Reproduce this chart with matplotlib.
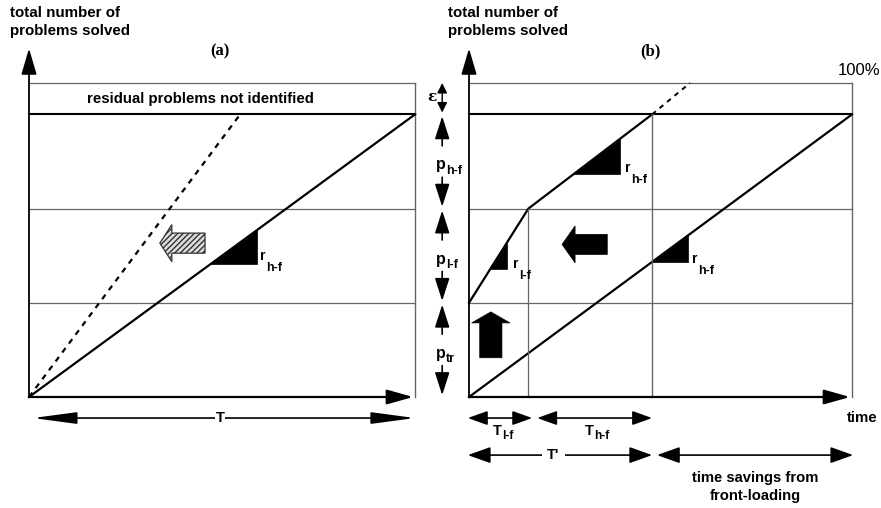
import numpy as np
import matplotlib.pyplot as plt
from matplotlib.patches import Polygon

plt.rcParams['font.family'] = ['Liberation Sans', 'DejaVu Sans']

# problem levels (% of all problems): p_tr, p_l-f, p_h-f bands, epsilon band on top
levels = [0, 30, 60, 90, 100]
T = 10.0

# (a) conventional process
base_t = [0, 10]
base_p = [0, 90]
fast_t = [0, 5.47]
fast_p = [0, 90]

# (b) front-loading
T_lf = 1.55
T_prime = 4.78
front_t = [0, T_lf, T_prime]
front_p = [30, 60, 90]
front_ext_t = [T_prime, 5.77]
front_ext_p = [90, 100]

# slope triangles (t0, t1)
tri_a = [(4.7, 5.9)]
tri_b_front = [(0.55, 0.99), (2.72, 3.94)]
tri_b_base = [(T_prime, 5.72)]

GREY = '#666666'


def arrow(ax, tail, tip, style='-|>', hl=15, hw=4.5, lw=1.4):
    ax.annotate('', xy=tip, xytext=tail, annotation_clip=False,
                arrowprops=dict(arrowstyle=f'{style},head_length={hl},head_width={hw}',
                                mutation_scale=1, lw=lw, color='black',
                                shrinkA=0, shrinkB=0))


def sub_text(ax, x, y, main, sub, fs=11, sfs=9, dy=-1.5, **kw):
    t = ax.text(x, y, main, fontsize=fs, fontweight='bold', va='baseline', ha='left', **kw)
    ax.annotate(sub, xy=(1, 0), xycoords=t, xytext=(0.3, dy), textcoords='offset points',
                fontsize=sfs, fontweight='bold', va='baseline', ha='left',
                annotation_clip=False, **kw)


def slope_tri(ax, t, p, t0, t1):
    y0 = np.interp(t0, t, p)
    y1 = np.interp(t1, t, p)
    ax.add_patch(Polygon([(t0, y0), (t1, y0), (t1, y1)], closed=True,
                         fc='black', ec='black', lw=0.5, clip_on=False))


def left_arrow(ax, tip, hl, hh, bl, bh, **kw):
    xt, yc = tip
    pts = [(xt, yc), (xt + hl, yc + hh), (xt + hl, yc + bh), (xt + hl + bl, yc + bh),
           (xt + hl + bl, yc - bh), (xt + hl, yc - bh), (xt + hl, yc - hh)]
    ax.add_patch(Polygon(pts, closed=True, clip_on=False, **kw))


def up_arrow(ax, tip, hl, hh, bl, bh, **kw):
    xc, yt = tip
    pts = [(xc, yt), (xc + hh, yt - hl), (xc + bh, yt - hl), (xc + bh, yt - hl - bl),
           (xc - bh, yt - hl - bl), (xc - bh, yt - hl), (xc - hh, yt - hl)]
    ax.add_patch(Polygon(pts, closed=True, clip_on=False, **kw))


def frame(ax):
    for lv in levels[1:]:
        col = 'black' if lv == 90 else GREY
        lw = 1.5 if lv == 90 else 0.9
        ax.plot([0, T], [lv, lv], color=col, lw=lw, clip_on=False)
    ax.plot([T, T], [0, 100], color=GREY, lw=1.0, clip_on=False)
    arrow(ax, (0, 0), (0, 111), hl=16, hw=4.7, lw=1.3)
    arrow(ax, (0, 0), (9.95, 0), hl=16, hw=4.5, lw=1.6)
    ax.set_xlim(0, T)
    ax.set_ylim(0, 100)
    ax.axis('off')


fig = plt.figure(figsize=(8.81, 5.08), dpi=100)
W, H = 881, 508
ax_a = fig.add_axes([29 / W, 111 / H, 386 / W, 314 / H])
ax_b = fig.add_axes([469 / W, 111 / H, 383 / W, 314 / H])

# ---------- panel (a)
frame(ax_a)
ax_a.plot(base_t, base_p, color='black', lw=1.6, clip_on=False)
ax_a.plot(fast_t, fast_p, color='black', lw=1.6, ls=(0, (2.5, 2.5)), clip_on=False)
for t0, t1 in tri_a:
    slope_tri(ax_a, base_t, base_p, t0, t1)
sub_text(ax_a, 5.98, 43.6, 'r', 'h-f', fs=10, sfs=9, dy=-5.5)
left_arrow(ax_a, (3.39, 49.0), 0.31, 5.9, 0.86, 3.2,
           fc='#dddddd', ec='#333333', lw=0.9, hatch='//////')
ax_a.text(-0.49, 124.5, 'total number of\nproblems solved', fontsize=10.9,
          fontweight='bold', va='top', ha='left', linespacing=1.35)
ax_a.text(4.95, 110, '(a)', fontsize=12, fontweight='bold', family='Liberation Serif',
          ha='center', va='center')
ax_a.text(4.43, 95, 'residual problems not identified', fontsize=10.8,
          fontweight='bold', ha='center', va='center')
arrow(ax_a, (0.1, -6.7), (10.0, -6.7), style='<|-|>', hl=27, hw=3.6, lw=1.2)
ax_a.text(4.95, -6.7, 'T', fontsize=10.5, fontweight='bold', ha='center', va='center',
          bbox=dict(fc='white', ec='none', pad=0.5))

# ---------- panel (b)
frame(ax_b)
ax_b.plot(base_t, base_p, color='black', lw=1.6, clip_on=False)
ax_b.plot(front_t, front_p, color='black', lw=1.6, clip_on=False)
ax_b.plot(front_ext_t, front_ext_p, color='black', lw=1.4, ls=(0, (2.5, 2.5)), clip_on=False)
ax_b.plot([T_lf, T_lf], [0, 60], color=GREY, lw=0.9, clip_on=False)
ax_b.plot([T_prime, T_prime], [0, 90], color=GREY, lw=1.0, clip_on=False)
for t0, t1 in tri_b_front:
    slope_tri(ax_b, front_t, front_p, t0, t1)
for t0, t1 in tri_b_base:
    slope_tri(ax_b, base_t, base_p, t0, t1)
sub_text(ax_b, 1.15, 41.1, 'r', 'l-f', fs=10, sfs=9, dy=-5.5)
sub_text(ax_b, 4.07, 71.7, 'r', 'h-f', fs=10, sfs=9, dy=-5.5)
sub_text(ax_b, 5.82, 42.7, 'r', 'h-f', fs=10, sfs=9, dy=-5.5)
left_arrow(ax_b, (2.43, 48.6), 0.34, 5.9, 0.84, 3.2, fc='black', ec='black', lw=0.5)
up_arrow(ax_b, (0.57, 27.1), 3.5, 0.50, 11.1, 0.29, fc='black', ec='black', lw=0.5)

ax_b.text(-0.55, 124.5, 'total number of\nproblems solved', fontsize=10.9,
          fontweight='bold', va='top', ha='left', linespacing=1.35)
ax_b.text(4.73, 110, '(b)', fontsize=12, fontweight='bold', family='Liberation Serif',
          ha='center', va='center')
ax_b.text(10.73, 104, '100%', fontsize=12, ha='right', va='center')
ax_b.text(10.26, -6.7, 'time', fontsize=10.8, fontweight='bold', ha='center', va='center')

# middle column: band heights
xm = -0.70
arrow(ax_b, (xm, 95), (xm, 100), hl=6, hw=3, lw=1.0)
arrow(ax_b, (xm, 95), (xm, 90.6), hl=6, hw=3, lw=1.0)
ax_b.text(-0.97, 95.5, 'ε', fontsize=11, fontweight='bold', family='DejaVu Serif',
          ha='center', va='center')
band_names = ['tr', 'l-f', 'h-f']
for lo, hi, name in zip(levels[:3], levels[1:4], band_names):
    mid = (lo + hi) / 2
    arrow(ax_b, (xm, mid + 5), (xm, hi - 0.6), hl=14, hw=4.5, lw=1.2)
    arrow(ax_b, (xm, mid - 5), (xm, lo + 0.6), hl=14, hw=4.5, lw=1.2)
    sub_text(ax_b, -0.86, mid - 2.5, 'p', name, fs=11.5, sfs=9, dy=-1.0)

# time spans
arrow(ax_b, (-0.03, -6.7), (T_lf + 0.1, -6.7), style='<|-|>', hl=12, hw=4.3, lw=1.2)
arrow(ax_b, (T_lf + 0.23, -6.7), (T_prime, -6.7), style='<|-|>', hl=12, hw=4.3, lw=1.2)
sub_text(ax_b, 0.62, -12.1, 'T', 'l-f', fs=10.5, sfs=8.5, dy=-1.0)
sub_text(ax_b, 3.03, -12.1, 'T', 'h-f', fs=10.5, sfs=8.5, dy=-1.0)
arrow(ax_b, (-0.03, -18.5), (T_prime, -18.5), style='<|-|>', hl=14, hw=5, lw=1.2)
ax_b.text(2.2, -18.5, "T'", fontsize=10.5, fontweight='bold', ha='center', va='center',
          bbox=dict(fc='white', ec='none', pad=4))
arrow(ax_b, (T_prime + 0.13, -18.5), (10.03, -18.5), style='<|-|>', hl=14, hw=5, lw=1.2)
ax_b.text(7.47, -28.7, 'time savings from\nfront-loading', fontsize=10.6,
          fontweight='bold', ha='center', va='center', linespacing=1.3)

fig.savefig('out.png', dpi=100)
